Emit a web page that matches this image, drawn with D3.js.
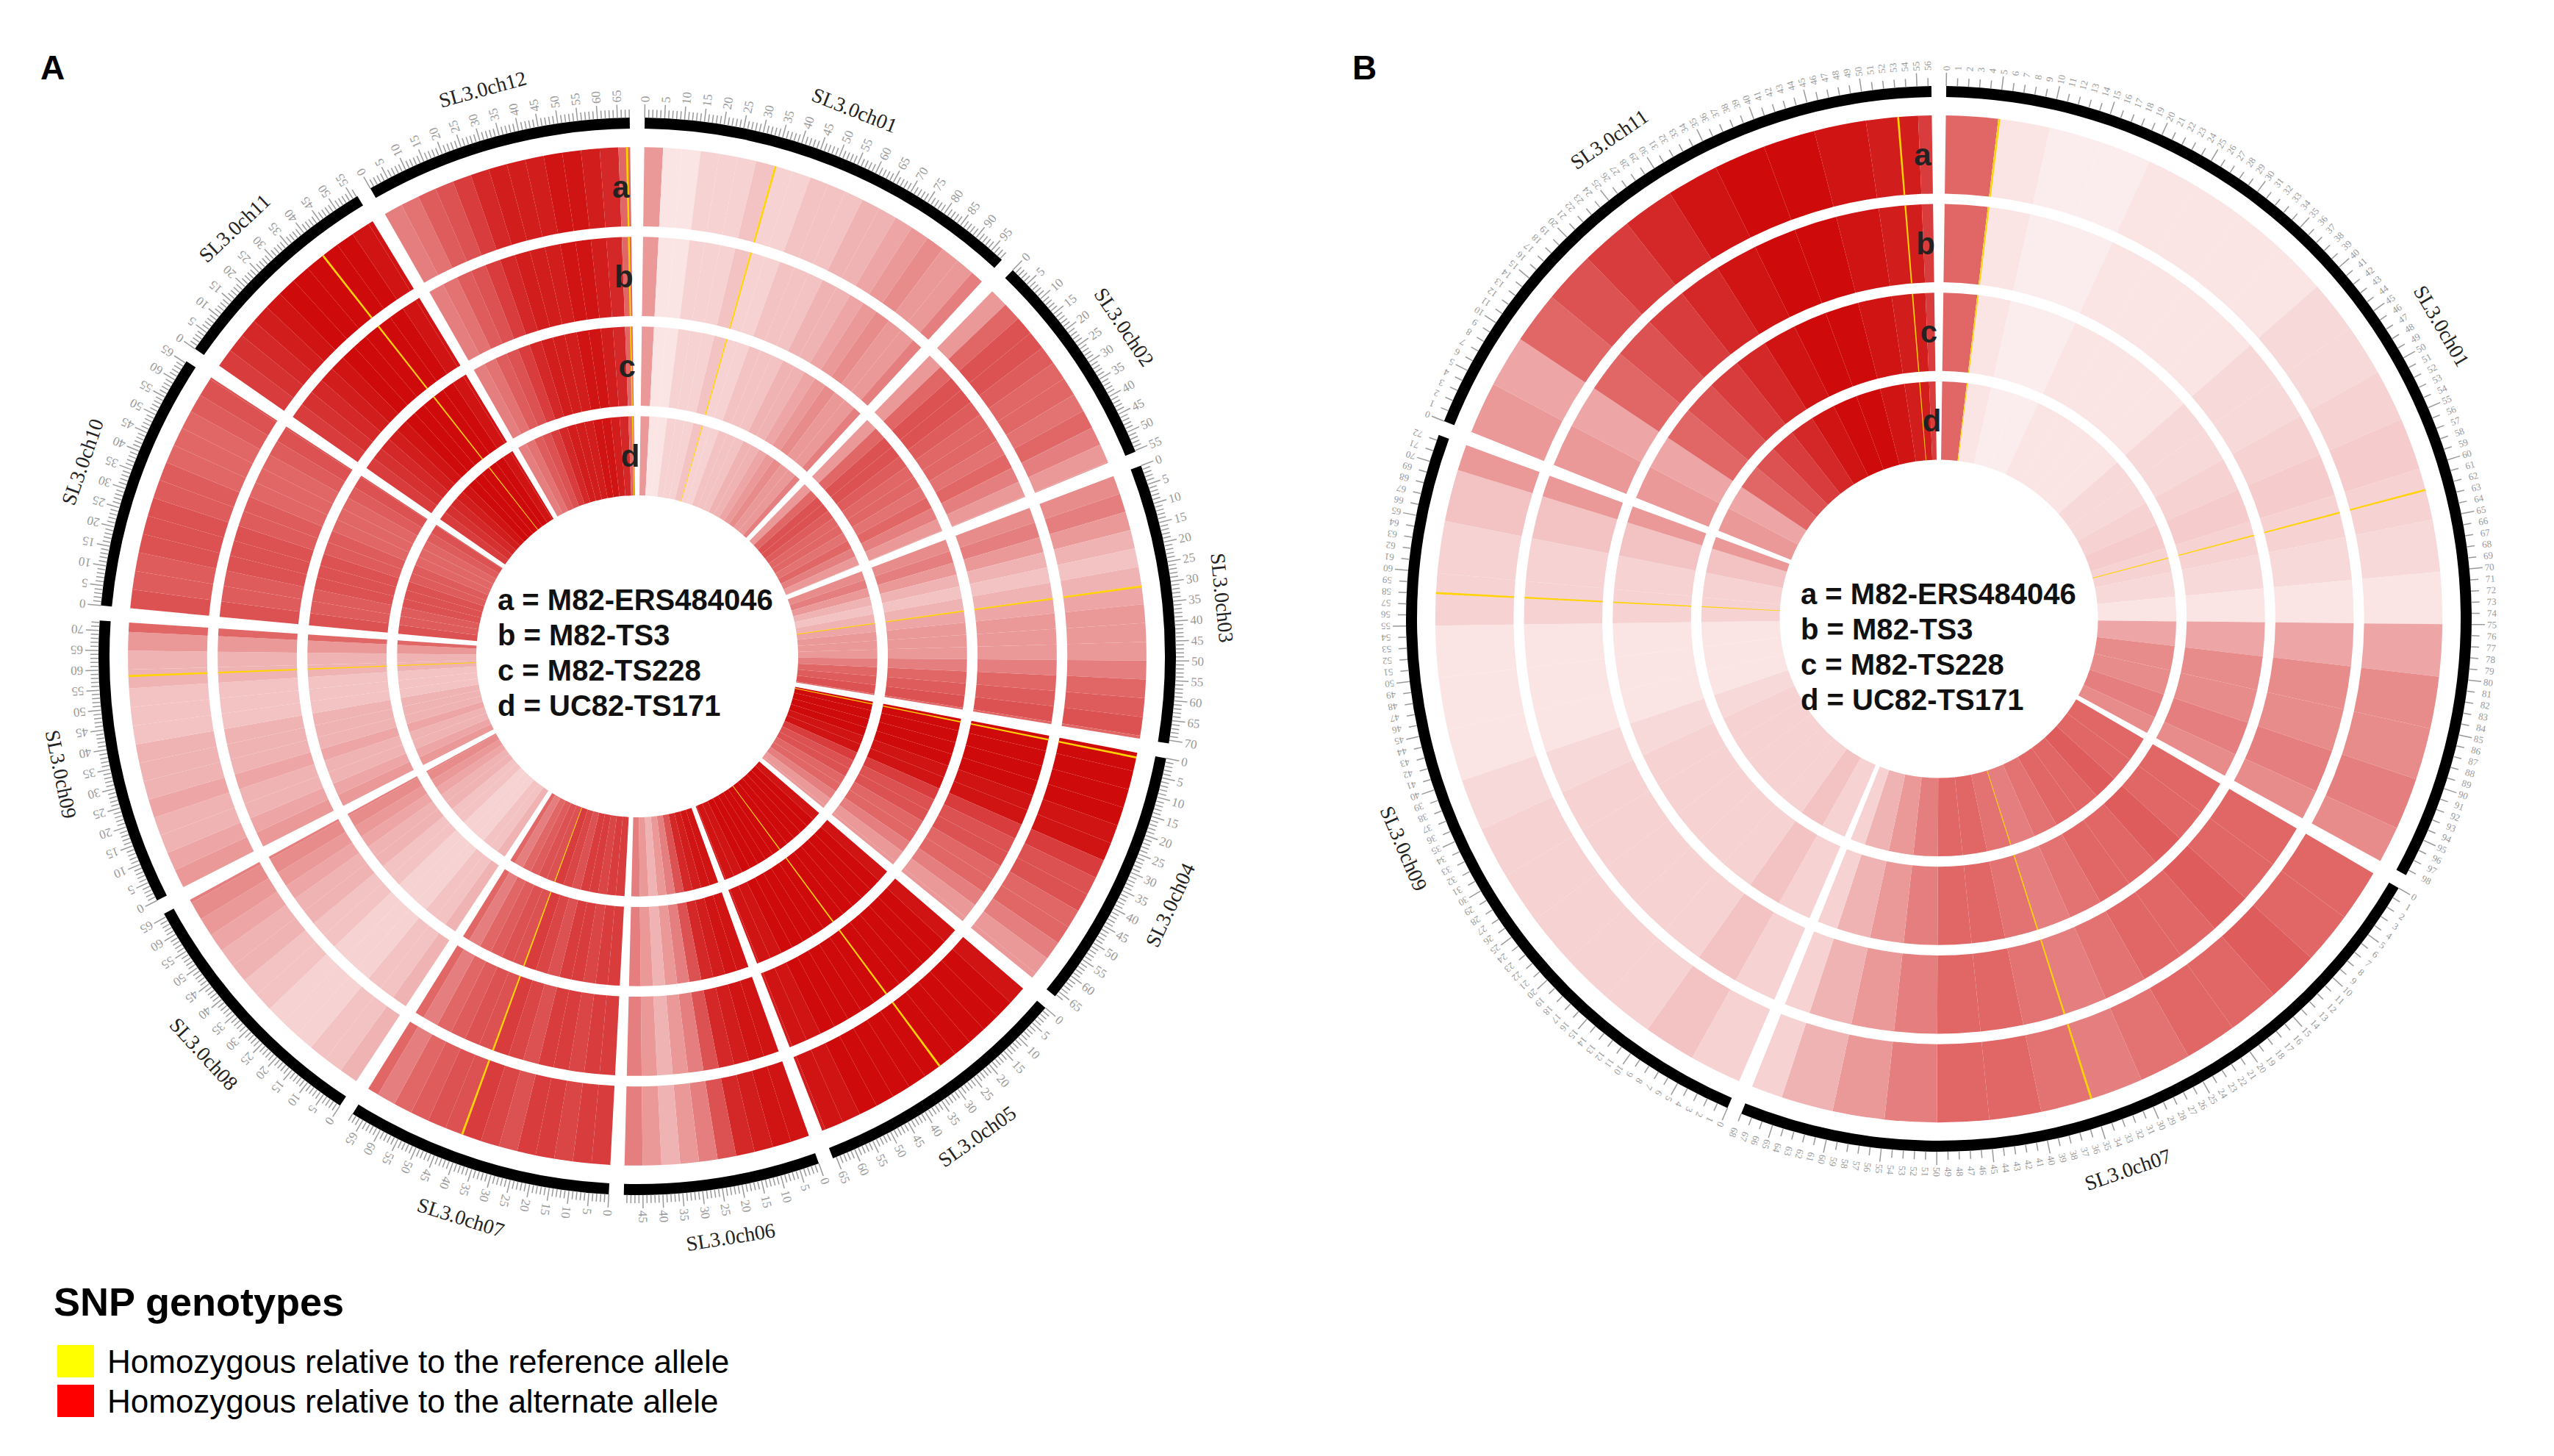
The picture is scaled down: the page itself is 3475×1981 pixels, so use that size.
<!DOCTYPE html>
<html><head><meta charset="utf-8">
<script src="https://cdn.jsdelivr.net/npm/d3@7"></script>
<style>body{margin:0;background:#fff}</style>
</head><body>
<script>
// chromosome lengths (Mb), SL3.0
const chromA = ["SL3.0ch01","SL3.0ch02","SL3.0ch03","SL3.0ch04","SL3.0ch05","SL3.0ch06","SL3.0ch07","SL3.0ch08","SL3.0ch09","SL3.0ch10","SL3.0ch11","SL3.0ch12"];
const lenA = [98.5,55.3,70.8,66.5,65.9,49.8,68.0,65.9,72.5,65.5,56.3,68.1];
// SNP density per 5 Mb bin (0..1)
const densA = [
  [0.3,0.05,0.05,0.1,0.1,0.1,0.15,0.1,0.1,0.15,0.15,0.15,0.2,0.2,0.25,0.3,0.35,0.3,0.3,0.4],
  [0.3,0.5,0.6,0.6,0.55,0.5,0.5,0.45,0.5,0.4,0.3,0.3],
  [0.35,0.4,0.3,0.2,0.15,0.2,0.25,0.3,0.3,0.3,0.4,0.5,0.55,0.6,0.5],
  [0.95,0.95,0.95,0.95,0.9,0.9,0.7,0.6,0.6,0.5,0.5,0.4,0.3,0.3],
  [0.9,0.95,0.95,0.95,0.95,0.95,0.95,0.95,0.95,0.95,0.95,0.9,0.9,0.85],
  [0.9,0.9,0.85,0.8,0.6,0.4,0.3,0.2,0.3,0.4],
  [0.7,0.7,0.65,0.7,0.7,0.6,0.65,0.7,0.6,0.6,0.55,0.5,0.4,0.5],
  [0.2,0.15,0.15,0.1,0.1,0.1,0.15,0.15,0.2,0.2,0.25,0.3,0.35,0.4],
  [0.3,0.25,0.2,0.2,0.25,0.2,0.2,0.2,0.15,0.15,0.15,0.2,0.2,0.3,0.5],
  [0.6,0.55,0.55,0.6,0.6,0.6,0.55,0.55,0.5,0.5,0.5,0.55,0.6,0.6],
  [0.7,0.75,0.8,0.85,0.9,0.95,0.95,0.95,0.95,0.95,0.9,0.9],
  [0.4,0.45,0.55,0.6,0.7,0.8,0.85,0.85,0.85,0.9,0.9,0.85,0.8,0.5]
];
// reference-allele (yellow) SNP positions: [chrom index, Mb]
const yellowA = [[10,40],[3,1],[8,58],[6,40],[11,67],[2,30],[0,35],[4,30]];

const chromB = ["SL3.0ch01","SL3.0ch07","SL3.0ch09","SL3.0ch11"];
const lenB = [98.5,68.0,72.5,56.3];
const densB = [
  [0.5,0.05,0.03,0.03,0.05,0.05,0.05,0.05,0.08,0.08,0.1,0.12,0.1,0.08,0.05,0.25,0.35,0.35,0.4,0.35],
  [0.5,0.5,0.55,0.5,0.5,0.45,0.4,0.45,0.5,0.5,0.4,0.3,0.2,0.1],
  [0.1,0.15,0.1,0.1,0.1,0.1,0.1,0.08,0.05,0.05,0.05,0.1,0.1,0.15,0.3],
  [0.3,0.25,0.5,0.6,0.7,0.8,0.9,0.95,0.95,0.9,0.85,0.7]
];
const yellowB = [[3,53],[0,5],[2,58],[1,35],[0,62]];

const trackLabels = ["a","b","c","d"];
const sampleNames = ["a = M82-ERS484046","b = M82-TS3","c = M82-TS228","d = UC82-TS171"];
const legendItems = [["Homozygous relative to the reference allele","#ffff00"],["Homozygous relative to the alternate allele","#ff0000"]];

const svg = d3.select("body").append("svg").attr("width",3475).attr("height",1981);
const color = d3.scalePow().exponent(0.75).domain([0,1]).range(["#ffffff","#cc0000"]);

function panel(cx, cy, R, names, lens, dens, yellow, labelEvery, gapDeg, lx, ly) {
  const g = svg.append("g").attr("transform",`translate(${cx},${cy})`);
  const total = d3.sum(lens);
  const gap = gapDeg*Math.PI/180;
  const k = (2*Math.PI - gap*lens.length)/total;
  const starts = []; let a = gap/2;
  lens.forEach(l => { starts.push(a); a += l*k + gap; });
  const ang = (i, mb) => starts[i] + mb*k;
  const tracks = [[R*0.815,R*0.965],[R*0.645,R*0.795],[R*0.475,R*0.625],[R*0.305,R*0.455]];
  const arc = d3.arc();
  lens.forEach((len, i) => {
    tracks.forEach(tr => {
      dens[i].forEach((d, b) => {
        const e = Math.min(len, (b+1)*5);
        if (b*5 >= len) return;
        g.append("path").attr("d", arc({innerRadius:tr[0],outerRadius:tr[1],startAngle:ang(i,b*5),endAngle:ang(i,e)}))
          .attr("fill", color(d));
      });
    });
    // ideogram
    g.append("path").attr("d", arc({innerRadius:R,outerRadius:R+15,startAngle:ang(i,0),endAngle:ang(i,len)})).attr("fill","#000");
    for (let m = 0; m <= Math.floor(len); m++) {
      const t = ang(i,m) - Math.PI/2;
      const r2 = R + 15 + (m%5===0 ? 18 : 11);
      g.append("line").attr("x1",(R+15)*Math.cos(t)).attr("y1",(R+15)*Math.sin(t))
        .attr("x2",r2*Math.cos(t)).attr("y2",r2*Math.sin(t)).attr("stroke","#999").attr("stroke-width",1.5);
      if (m % labelEvery === 0) {
        const rl = R + 36, deg = t*180/Math.PI;
        g.append("text").attr("transform",`translate(${rl*Math.cos(t)},${rl*Math.sin(t)}) rotate(${deg})`)
          .attr("dy","0.35em").attr("font-family","Liberation Serif").attr("font-size",labelEvery===5?17:13)
          .attr("fill","#999").text(m);
      }
    }
    const tm = ang(i,len/2), deg = tm*180/Math.PI;
    const flip = deg > 90 && deg < 270;
    const rt = R + 82;
    g.append("text").attr("transform",`translate(${rt*Math.sin(tm)},${-rt*Math.cos(tm)}) rotate(${flip?deg+180:deg})`)
      .attr("text-anchor","middle").attr("dy","0.35em").attr("font-family","Liberation Serif").attr("font-size",28)
      .attr("fill","#222").text(names[i]);
  });
  yellow.forEach(([i, mb]) => {
    const t = ang(i,mb);
    tracks.forEach(tr => g.append("path").attr("d", arc({innerRadius:tr[0],outerRadius:tr[1],startAngle:t,endAngle:t+0.004})).attr("fill","#ffd400"));
  });
  trackLabels.forEach((s, j) => {
    const rm = (tracks[j][0]+tracks[j][1])/2, t = -0.035;
    g.append("text").attr("x",rm*Math.sin(t)).attr("y",-rm*Math.cos(t)).attr("text-anchor","middle").attr("dy","0.35em")
      .attr("font-family","Liberation Sans").attr("font-weight","bold").attr("font-size",42).attr("fill","#222").text(s);
  });
  sampleNames.forEach((s, j) => {
    svg.append("text").attr("x",lx).attr("y",ly + j*48).attr("font-family","Liberation Sans").attr("font-weight","bold")
      .attr("font-size",40).attr("fill","#111").text(s);
  });
}

panel(867, 893, 718, chromA, lenA, densA, yellowA, 5, 1.6, 677, 830);
panel(2638, 842, 710, chromB, lenB, densB, yellowB, 1, 1.6, 2450, 822);

svg.append("text").attr("x",55).attr("y",108).attr("font-family","Liberation Sans").attr("font-weight","bold").attr("font-size",46).text("A");
svg.append("text").attr("x",1840).attr("y",108).attr("font-family","Liberation Sans").attr("font-weight","bold").attr("font-size",46).text("B");

svg.append("text").attr("x",73).attr("y",1790).attr("font-family","Liberation Sans").attr("font-weight","bold").attr("font-size",54).text("SNP genotypes");
legendItems.forEach(([t, c], j) => {
  svg.append("rect").attr("x",78).attr("y",1830 + j*54).attr("width",50).attr("height",44).attr("fill",c);
  svg.append("text").attr("x",146).attr("y",1868 + j*54).attr("font-family","Liberation Sans").attr("font-size",44).text(t);
});
</script>
</body></html>
